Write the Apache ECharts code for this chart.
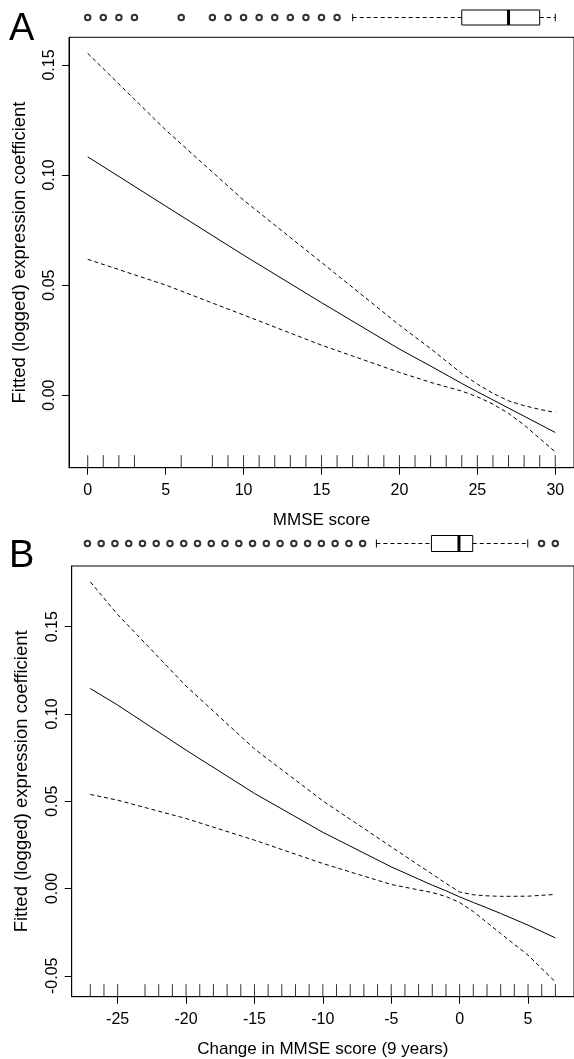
<!DOCTYPE html>
<html><head><meta charset="utf-8">
<script src="https://cdn.jsdelivr.net/npm/echarts@6/dist/echarts.min.js"></script>
<style>html,body{margin:0;padding:0;background:#fff}#c{width:574px;height:1059px}</style>
</head><body><div id="c"></div>
<script>
// ---- Panel A data (MMSE score) ----
const mmseX   = [0, 5, 10, 15, 20, 22, 24, 25, 26, 27, 28, 29, 30];
const fitA    = [0.1083, 0.0859, 0.0636, 0.0420, 0.0209, 0.0132, 0.0053, 0.0015, -0.0022, -0.0059, -0.0096, -0.0133, -0.0170];
const upperA  = [0.1553, 0.1205, 0.0886, 0.0603, 0.0318, 0.0211, 0.0098, 0.0050, 0.0008, -0.0026, -0.0048, -0.0065, -0.0079];
const lowerA  = [0.0617, 0.0500, 0.0364, 0.0227, 0.0103, 0.0058, 0.0018, -0.0008, -0.0041, -0.0083, -0.0136, -0.0197, -0.0258];
const rugA    = [0,1,2,3,6,8,9,10,11,12,13,14,15,16,17,18,19,20,21,22,23,24,25,26,27,28,29,30];
const boxA    = [17, 24, 27, 29, 30];            // whisker low, Q1, median, Q3, whisker high
const outA    = [0,1,2,3,6,8,9,10,11,12,13,14,15,16];
const xTicksA = [0, 5, 10, 15, 20, 25, 30];
const yTicksA = [0.00, 0.05, 0.10, 0.15];

// ---- Panel B data (Change in MMSE score, 9 years) ----
const changeX = [-27, -25, -20, -15, -10, -5, -3, -2, -1, 0, 1, 2, 3, 5, 7];
const fitB    = [0.1146, 0.1051, 0.0793, 0.0545, 0.0322, 0.0124, 0.0054, 0.0019, -0.0013, -0.0048, -0.0080, -0.0111, -0.0143, -0.0210, -0.0283];
const upperB  = [0.1757, 0.1570, 0.1160, 0.0800, 0.0502, 0.0239, 0.0134, 0.0082, 0.0029, -0.0020, -0.0036, -0.0042, -0.0045, -0.0044, -0.0034];
const lowerB  = [0.0539, 0.0506, 0.0401, 0.0277, 0.0143, 0.0023, -0.0008, -0.0023, -0.0046, -0.0080, -0.0132, -0.0195, -0.0258, -0.0382, -0.0535];
const rugB    = [-27,-26,-25,-23,-22,-21,-20,-19,-18,-17,-16,-15,-14,-13,-12,-11,-10,-9,-8,-7,-6,-5,-4,-3,-2,-1,0,1,2,3,4,5,6,7];
const boxB    = [-6, -2, 0, 1, 5];
const outB    = [-27,-26,-25,-24,-23,-22,-21,-20,-19,-18,-17,-16,-15,-14,-13,-12,-11,-10,-9,-8,-7,6,7];
const xTicksB = [-25, -20, -15, -10, -5, 0, 5];
const yTicksB = [-0.05, 0.00, 0.05, 0.10, 0.15];

const FONT = "'Liberation Sans', Arial, sans-serif";
const DASH = [4, 3];
const rangeA = {xmin: -1.2, xmax: 31.2, ymin: -0.033, ymax: 0.1626};
const rangeB = {xmin: -28.36, xmax: 8.36, ymin: -0.062, ymax: 0.1848};

const chart = echarts.init(document.getElementById('c'), null, {renderer: 'canvas'});

function zip(xs, ys) { return xs.map((x, i) => [x, ys[i]]); }

function mainX(grid, r, ticks, name) {
  return {
    type: 'value', gridIndex: grid, min: r.xmin, max: r.xmax,
    axisLine: {show: true, onZero: false, lineStyle: {color: '#000', width: 1}},
    axisTick: {show: true, length: 7, customValues: ticks, lineStyle: {color: '#000'}},
    axisLabel: {customValues: ticks, color: '#000', fontSize: 16, fontFamily: FONT, margin: 15},
    splitLine: {show: false},
    name: name, nameLocation: 'middle', nameGap: 44,
    nameTextStyle: {color: '#000', fontSize: 17, fontFamily: FONT}
  };
}
function mainY(grid, r, ticks) {
  return {
    type: 'value', gridIndex: grid, min: r.ymin, max: r.ymax,
    axisLine: {show: true, onZero: false, lineStyle: {color: '#000', width: 1}},
    axisTick: {show: true, length: 7, customValues: ticks, lineStyle: {color: '#000'}},
    axisLabel: {customValues: ticks, color: '#000', fontSize: 16, fontFamily: FONT, margin: 11, rotate: 90,
      formatter: v => v.toFixed(2)},
    splitLine: {show: false},
    name: 'Fitted (logged) expression coefficient', nameLocation: 'middle', nameGap: 40, nameRotate: 90,
    nameTextStyle: {color: '#000', fontSize: 18.5, fontFamily: FONT}
  };
}
function hiddenX(grid, r) {
  return {type: 'value', gridIndex: grid, min: r.xmin, max: r.xmax, show: false, splitLine: {show: false}};
}
function hiddenY(grid) {
  return {type: 'value', gridIndex: grid, min: 0, max: 1, show: false, splitLine: {show: false}};
}
function curve(xi, yi, data, dashed) {
  return {type: 'line', xAxisIndex: xi, yAxisIndex: yi, data: data, showSymbol: false,
    smooth: false, silent: true,
    lineStyle: {color: '#000', width: 1, type: dashed ? DASH : 'solid'}};
}
function rug(xi, yi, vals, ymin) {
  return {type: 'custom', xAxisIndex: xi, yAxisIndex: yi, data: vals.map(v => [v, ymin]),
    encode: {x: 0, y: 1}, silent: true,
    renderItem: (params, api) => {
      const p = api.coord([api.value(0), api.value(1)]);
      return {type: 'line', shape: {x1: p[0], y1: p[1], x2: p[0], y2: p[1] - 12.5},
        style: {stroke: '#333', lineWidth: 1}};
    }};
}
function boxSeries(xi, yi, box) {
  return {type: 'custom', xAxisIndex: xi, yAxisIndex: yi, data: [[...box, 0.5]],
    encode: {x: [0, 1, 2, 3, 4], y: 5}, silent: true,
    renderItem: (params, api) => {
      const v = [0, 1, 2, 3, 4].map(i => api.coord([api.value(i), 0.5])[0]);
      const yT = api.coord([0, 1])[1], yB = api.coord([0, 0])[1], yM = (yT + yB) / 2;
      const hh = (yB - yT) / 4;
      const ls = {stroke: '#000', lineWidth: 1};
      return {type: 'group', children: [
        {type: 'line', shape: {x1: v[0], y1: yM, x2: v[1], y2: yM}, style: {...ls, lineDash: DASH}},
        {type: 'line', shape: {x1: v[3], y1: yM, x2: v[4], y2: yM}, style: {...ls, lineDash: DASH}},
        {type: 'line', shape: {x1: v[0], y1: yM - hh, x2: v[0], y2: yM + hh}, style: ls},
        {type: 'line', shape: {x1: v[4], y1: yM - hh, x2: v[4], y2: yM + hh}, style: ls},
        {type: 'rect', shape: {x: v[1], y: yT, width: v[3] - v[1], height: yB - yT}, style: {...ls, fill: '#fff'}},
        {type: 'line', shape: {x1: v[2], y1: yT, x2: v[2], y2: yB}, style: {stroke: '#000', lineWidth: 3}}
      ]};
    }};
}
function outliers(xi, yi, vals) {
  return {type: 'scatter', xAxisIndex: xi, yAxisIndex: yi, data: vals.map(v => [v, 0.5]),
    symbol: 'emptyCircle', symbolSize: 5.5, silent: true,
    itemStyle: {color: '#000', borderColor: '#000', borderWidth: 1}};
}

const gridStyle = {show: true, borderColor: '#000', borderWidth: 1, backgroundColor: 'transparent'};
chart.setOption({
  animation: false,
  backgroundColor: '#fff',
  textStyle: {fontFamily: FONT},
  grid: [
    {left: 69, top: 37.3, width: 506.5, height: 430.4, ...gridStyle},
    {left: 69, top: 10, width: 506.5, height: 15, show: false},
    {left: 71.7, top: 566, width: 505.4, height: 430.7, ...gridStyle},
    {left: 68.7, top: 535.5, width: 505.4, height: 16, show: false}
  ],
  xAxis: [mainX(0, rangeA, xTicksA, 'MMSE score'), hiddenX(1, rangeA),
          mainX(2, rangeB, xTicksB, 'Change in MMSE score (9 years)'), hiddenX(3, rangeB)],
  yAxis: [mainY(0, rangeA, yTicksA), hiddenY(1), mainY(2, rangeB, yTicksB), hiddenY(3)],
  series: [
    curve(0, 0, zip(mmseX, fitA), false),
    curve(0, 0, zip(mmseX, upperA), true),
    curve(0, 0, zip(mmseX, lowerA), true),
    rug(0, 0, rugA, rangeA.ymin),
    boxSeries(1, 1, boxA),
    outliers(1, 1, outA),
    curve(2, 2, zip(changeX, fitB), false),
    curve(2, 2, zip(changeX, upperB), true),
    curve(2, 2, zip(changeX, lowerB), true),
    rug(2, 2, rugB, rangeB.ymin),
    boxSeries(3, 3, boxB),
    outliers(3, 3, outB)
  ],
  graphic: [
    {type: 'text', left: 9, top: 11, style: {text: 'A', fontSize: 38, fontFamily: FONT, fill: '#000'}},
    {type: 'text', left: 9, top: 538, style: {text: 'B', fontSize: 38, fontFamily: FONT, fill: '#000'}}
  ]
});
</script>
</body></html>
